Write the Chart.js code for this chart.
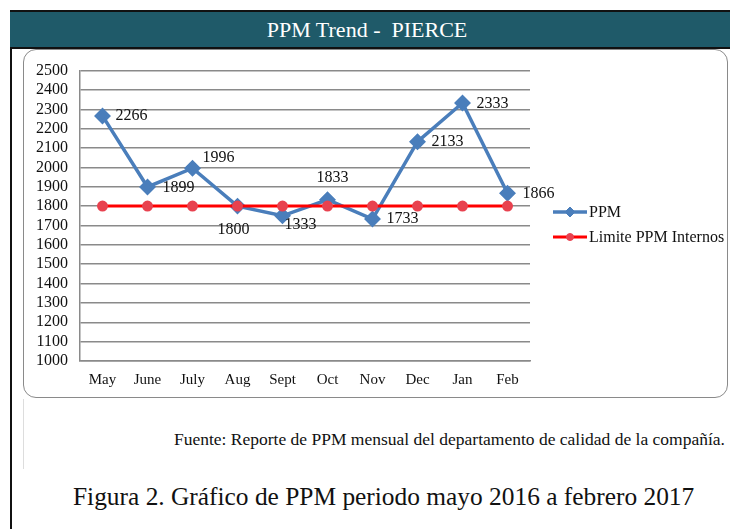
<!DOCTYPE html>
<html>
<head>
<meta charset="utf-8">
<script src="https://cdn.jsdelivr.net/npm/chart.js@4/dist/chart.umd.min.js"></script>
<style>
  body { margin: 0; width: 730px; height: 529px; background: #fff; position: relative; overflow: hidden; font-family: "Times New Roman", "Liberation Serif", "DejaVu Serif", serif; }
  #frameLeft { position: absolute; left: 10px; top: 10px; width: 2px; height: 519px; background: #111; }
  #titleBar { position: absolute; left: 10px; top: 10px; width: 730px; height: 35px; background: #1f5a69; border-top: 2px solid #111; border-bottom: 2px solid #111; color: #fff; font-size: 22px; line-height: 35px; text-align: center; box-sizing: content-box; }
  #titleBar span { position: relative; left: -8px; }
  #chartBox { position: absolute; left: 23px; top: 49px; width: 703px; height: 347px; border: 1.5px solid #8a8a8a; border-radius: 13px; }
  #chartBox canvas { position: absolute; left: -1px; top: -1px; }
  #noteBox { position: absolute; left: 23px; top: 399px; width: 1px; height: 70px; background: #ddd; }
  #fuente { position: absolute; right: 5px; top: 429px; font-size: 17.5px; color: #111; }
  #figura { position: absolute; left: 73px; top: 482px; font-size: 25.4px; color: #111; }
</style>
</head>
<body>
<div id="frameLeft"></div>
<div id="titleBar"><span>PPM Trend -&nbsp; PIERCE</span></div>
<div id="chartBox"><canvas id="myChart" width="705" height="349"></canvas></div>
<div id="noteBox"></div>
<div id="fuente">Fuente: Reporte de PPM mensual del departamento de calidad de la compañía.</div>
<div id="figura">Figura 2. Gráfico de PPM periodo mayo 2016 a febrero 2017</div>
<script>
// datos
const months = ['May', 'June', 'July', 'Aug', 'Sept', 'Oct', 'Nov', 'Dec', 'Jan', 'Feb'];
const ppm = [2266, 1899, 1996, 1800, 1750, 1833, 1733, 2133, 2333, 1866];
const ppmLabels = ['2266', '1899', '1996', '1800', '1333', '1833', '1733', '2133', '2333', '1866'];
const limite = [1800, 1800, 1800, 1800, 1800, 1800, 1800, 1800, 1800, 1800];

const blue = '#4a7ebb';
const red = '#ff0000';
const serif = '"Times New Roman", "Liberation Serif", "DejaVu Serif", serif';

// etiquetas de datos (posicion relativa al punto)
const dataLabelPlugin = {
    id: 'dataLabels',
    afterDatasetsDraw(chart) {
        const pos = [[13, 0, 'left'], [15, 1, 'left'], [10, -10, 'left'], [-4, 24, 'center'], [2, 9, 'left'],
                     [5, -22, 'center'], [14, 0, 'left'], [14, 0, 'left'], [14, 1, 'left'], [15, 0, 'left']];
        const meta = chart.getDatasetMeta(0);
        const ctx = chart.ctx;
        ctx.save();
        ctx.font = '16px ' + serif;
        ctx.fillStyle = '#111';
        ctx.textBaseline = 'middle';
        meta.data.forEach((pt, i) => {
            ctx.textAlign = pos[i][2];
            ctx.fillText(ppmLabels[i], pt.x + pos[i][0], pt.y + pos[i][1]);
        });
        ctx.restore();
    }
};

// leyenda a la derecha
const legendPlugin = {
    id: 'sideLegend',
    afterDraw(chart) {
        const ctx = chart.ctx;
        const x0 = chart.chartArea.right + 23;
        const items = [
            { text: 'PPM', color: blue, y: 163, lw: 3.5, style: 'rectRot', r: 5, fill: blue },
            { text: 'Limite PPM Internos', color: red, y: 188, lw: 3, style: 'circle', r: 3.5, fill: '#e8424f' }
        ];
        ctx.save();
        ctx.font = '16px ' + serif;
        ctx.textBaseline = 'middle';
        ctx.textAlign = 'left';
        items.forEach(it => {
            ctx.strokeStyle = it.color;
            ctx.lineWidth = it.lw;
            ctx.beginPath();
            ctx.moveTo(x0, it.y);
            ctx.lineTo(x0 + 34, it.y);
            ctx.stroke();
            ctx.fillStyle = it.fill;
            ctx.strokeStyle = it.fill;
            ctx.lineWidth = 1;
            Chart.helpers.drawPoint(ctx, { pointStyle: it.style, radius: it.r, borderWidth: 1 }, x0 + 17, it.y);
            ctx.fillStyle = '#111';
            ctx.fillText(it.text, x0 + 36, it.y + 1);
        });
        ctx.restore();
    }
};

const ctx = document.getElementById('myChart').getContext('2d');
const myChart = new Chart(ctx, {
    type: 'line',
    data: {
        labels: months,
        datasets: [{
            label: 'PPM',
            data: ppm,
            borderColor: blue,
            backgroundColor: blue,
            borderWidth: 3.5,
            pointStyle: 'rectRot',
            pointRadius: 6,
            pointBackgroundColor: blue,
            pointBorderColor: blue,
            tension: 0,
            order: 1
        }, {
            label: 'Limite PPM Internos',
            data: limite,
            borderColor: red,
            backgroundColor: '#e8424f',
            borderWidth: 3,
            pointStyle: 'circle',
            pointRadius: 4,
            pointBackgroundColor: '#e8424f',
            pointBorderColor: '#e8424f',
            tension: 0,
            order: 0
        }]
    },
    options: {
        responsive: false,
        animation: false,
        layout: { padding: { left: 0, top: 18, right: 198, bottom: 0 } },
        plugins: {
            legend: { display: false },
            tooltip: { enabled: false }
        },
        scales: {
            x: {
                offset: true,
                grid: { display: false, drawTicks: false },
                border: { color: '#8a8a8a', width: 1.5 },
                ticks: { color: '#111', font: { family: serif, size: 15 }, padding: 10, maxRotation: 0 },
                afterFit: (scale) => { scale.height = 37; }
            },
            y: {
                min: 1000,
                max: 2500,
                grid: { color: '#8a8a8a', lineWidth: 1.5, drawTicks: false },
                border: { color: '#8a8a8a', width: 1.5 },
                ticks: { stepSize: 100, autoSkip: false, color: '#111', font: { family: serif, size: 16 }, padding: 12,
                         callback: (v) => String(v) },
                afterFit: (scale) => { scale.width = 57; }
            }
        }
    },
    plugins: [dataLabelPlugin, legendPlugin]
});
</script>
</body>
</html>
